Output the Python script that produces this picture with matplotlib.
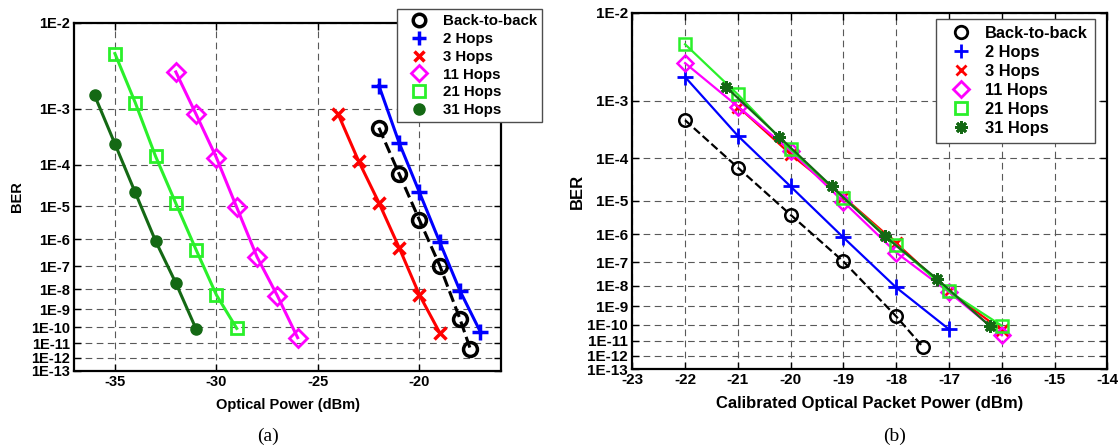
import math
import numpy as np
import matplotlib
matplotlib.use("Agg")
import matplotlib.pyplot as plt
from matplotlib.lines import Line2D
from matplotlib.ticker import FixedLocator, FixedFormatter

plt.rcParams['font.family'] = ['Liberation Sans', 'DejaVu Sans']
plt.rcParams['font.weight'] = 'bold'

# ---------------- data ----------------
labels = ['Back-to-back', '2 Hops', '3 Hops', '11 Hops', '21 Hops', '31 Hops']

# BER values (shared by both panels)
ber_b2b = [5e-4, 6.3e-5, 4e-6, 1.05e-7, 2.9e-10, 4.3e-12]
ber_2 = [2.1e-3, 2.7e-4, 2.3e-5, 7.8e-7, 8.3e-9, 5.3e-11]
ber_3 = [8.2e-4, 1.2e-4, 1.25e-5, 5e-7, 5.4e-9, 4.6e-11]
ber_11 = [3.1e-3, 8.2e-4, 1.4e-4, 9.3e-6, 2.3e-7, 5e-9, 2.3e-11]
ber_21 = [5e-3, 1.23e-3, 1.5e-4, 1.2e-5, 4.2e-7, 5.4e-9, 8.6e-11]
ber_31 = [1.55e-3, 2.6e-4, 2.3e-5, 8.7e-7, 1.95e-8, 7.8e-11]

# panel (a): optical power (dBm)
power_a_b2b = [-22, -21, -20, -19, -18, -17.5]
power_a_2 = [-22, -21, -20, -19, -18, -17]
power_a_3 = [-24, -23, -22, -21, -20, -19]
power_a_11 = [-32, -31, -30, -29, -28, -27, -26]
power_a_21 = [-35, -34, -33, -32, -31, -30, -29]
power_a_31 = [-36, -35, -34, -33, -32, -31]

# panel (b): calibrated optical packet power (dBm)
power_b_b2b = [-22, -21, -20, -19, -18, -17.5]
power_b_2 = [-22, -21, -20, -19, -18, -17]
power_b_3 = [-21, -20, -19, -18, -17, -16]
power_b_11 = [-22, -21, -20, -19, -18, -17, -16]
power_b_21 = [-22, -21, -20, -19, -18, -17, -16]
power_b_31 = [-21.22, -20.22, -19.22, -18.22, -17.22, -16.22]

ber_ticks = [1e-2, 1e-3, 1e-4, 1e-5, 1e-6, 1e-7, 1e-8, 1e-9, 1e-10, 1e-11, 1e-12, 1e-13]
ber_tick_labels = ['1E-2', '1E-3', '1E-4', '1E-5', '1E-6', '1E-7', '1E-8', '1E-9',
                   '1E-10', '1E-11', '1E-12', '1E-13']
xticks_a = [-35, -30, -25, -20]
xticks_b = [-23, -22, -21, -20, -19, -18, -17, -16, -15, -14]

# ---------------- BER (Q-factor) scale ----------------
SQRT2 = math.sqrt(2.0)
_erfc = np.vectorize(math.erfc, otypes=[float])


def ber_forward(ber):
    b = np.ma.filled(np.ma.asarray(ber, dtype=float), np.nan)
    b = np.array(b, dtype=float, ndmin=1)
    bad = ~np.isfinite(b) | (b <= 0) | (b >= 0.5)
    bc = np.where(bad, 1e-3, b)
    lo = np.zeros_like(bc)
    hi = np.full_like(bc, 38.0)
    for _ in range(55):
        mid = 0.5 * (lo + hi)
        val = 0.5 * _erfc(mid / SQRT2)
        gt = val > bc
        lo = np.where(gt, mid, lo)
        hi = np.where(gt, hi, mid)
    q = 0.5 * (lo + hi)
    out = -np.log10(q)
    out = np.where(bad, np.nan, out)
    return out.reshape(np.shape(ber)) if np.ndim(ber) else out[0]


def ber_inverse(y):
    y = np.ma.filled(np.ma.asarray(y, dtype=float), np.nan)
    return 0.5 * _erfc(10.0 ** (-np.asarray(y, dtype=float)) / SQRT2)


W, H = 1119, 446
fig = plt.figure(figsize=(W / 100, H / 100), dpi=100)


def px_axes(l, t, r, b):
    return fig.add_axes([l / W, 1 - b / H, (r - l) / W, (b - t) / H])


green = '#2af02a'
dgreen = '#146914'
magenta = '#ff00ff'


def style_axes(ax, xticks, xlim, tick_fs):
    ax.set_yscale('function', functions=(ber_forward, ber_inverse))
    ax.set_ylim(1e-13, 1e-2)
    ax.yaxis.set_major_locator(FixedLocator(ber_ticks))
    ax.yaxis.set_major_formatter(FixedFormatter(ber_tick_labels))
    ax.yaxis.set_minor_locator(FixedLocator([]))
    ax.set_xlim(*xlim)
    ax.set_xticks(xticks)
    ax.set_xticklabels([str(v) for v in xticks])
    ax.grid(True, color='0.35', linestyle=(0, (6, 4)), linewidth=0.8)
    ax.tick_params(direction='in', top=True, right=True, length=5, width=1,
                   labelsize=tick_fs, pad=3)
    for lab in ax.get_xticklabels() + ax.get_yticklabels():
        lab.set_fontweight('bold')
    for s in ax.spines.values():
        s.set_linewidth(1.6)


# ---------------- panel (a) ----------------
axa = px_axes(74.3, 22.7, 500.7, 371)
style_axes(axa, xticks_a, (-37, -16), 10.5)

lw_a = 2.2
axa.plot(power_a_b2b, ber_b2b, color='k', ls='--', lw=lw_a, marker='o', ms=10,
         mfc='none', mec='k', mew=2.5, zorder=3)
axa.plot(power_a_2, ber_2, color='b', lw=lw_a, marker='+', ms=12, mew=2.5, zorder=3)
axa.plot(power_a_3, ber_3, color='r', lw=lw_a, marker='x', ms=8, mew=2.5, zorder=3)
axa.plot(power_a_11, ber_11, color=magenta, lw=lw_a, marker='D', ms=9, mfc='none',
         mec=magenta, mew=2, zorder=3)
axa.plot(power_a_21, ber_21, color=green, lw=lw_a, marker='s', ms=9, mfc='none',
         mec=green, mew=2, zorder=3)
axa.plot(power_a_31, ber_31, color=dgreen, lw=lw_a, marker='o', ms=8, mfc=dgreen,
         mec=dgreen, zorder=3)
axa.set_xlabel('Optical Power (dBm)', fontsize=10.5, fontweight='bold', labelpad=6)
axa.set_ylabel('BER', fontsize=10.5, fontweight='bold', labelpad=5)

fs_la = 10.8
handles_a = [
    Line2D([], [], ls='None', marker='o', ms=9, mfc='none', mec='k', mew=2.5),
    Line2D([], [], ls='None', marker='+', ms=10, mec='b', mew=2.5),
    Line2D([], [], ls='None', marker='x', ms=7, mec='r', mew=2.5),
    Line2D([], [], ls='None', marker='D', ms=8, mfc='none', mec=magenta, mew=2),
    Line2D([], [], ls='None', marker='s', ms=8, mfc='none', mec=green, mew=2),
    Line2D([], [], ls='None', marker='o', ms=8, mfc=dgreen, mec=dgreen),
]
leg_a = fig.legend(handles_a, labels, loc='upper left',
                   bbox_to_anchor=(397 / W, 1 - 9 / H), borderaxespad=0,
                   prop={'size': fs_la, 'weight': 'bold'}, labelspacing=0.25,
                   handlelength=2.2, handletextpad=0.5, borderpad=0.35,
                   fancybox=False, edgecolor='0.3', framealpha=1)
leg_a.get_frame().set_linewidth(1.0)

# ---------------- panel (b) ----------------
axb = px_axes(632.3, 12.7, 1107.3, 369.3)
style_axes(axb, xticks_b, (-23, -14), 11)

lw_b = 1.6
axb.plot(power_b_b2b, ber_b2b, color='k', ls='--', lw=lw_b, marker='o', ms=9,
         mfc='none', mec='k', mew=1.8, zorder=3)
axb.plot(power_b_2, ber_2, color='b', lw=lw_b, marker='+', ms=11, mew=2, zorder=3)
axb.plot(power_b_3, ber_3, color='r', lw=lw_b, marker='x', ms=8, mew=2, zorder=3)
axb.plot(power_b_11, ber_11, color=magenta, lw=lw_b, marker='D', ms=8, mfc='none',
         mec=magenta, mew=1.8, zorder=3)
axb.plot(power_b_21, ber_21, color=green, lw=lw_b, marker='s', ms=8, mfc='none',
         mec=green, mew=1.8, zorder=3)
axb.plot(power_b_31, ber_31, color=dgreen, lw=lw_b, marker=(8, 2, 0), ms=9,
         mec=dgreen, mew=2, zorder=3)
axb.set_xlabel('Calibrated Optical Packet Power (dBm)', fontsize=12,
               fontweight='bold', labelpad=6)
axb.set_ylabel('BER', fontsize=12, fontweight='bold', labelpad=2)

fs_lb = 11.8
handles_b = [
    Line2D([], [], ls='None', marker='o', ms=9, mfc='none', mec='k', mew=2),
    Line2D([], [], ls='None', marker='+', ms=10, mec='b', mew=2),
    Line2D([], [], ls='None', marker='x', ms=7, mec='r', mew=2),
    Line2D([], [], ls='None', marker='D', ms=8, mfc='none', mec=magenta, mew=2),
    Line2D([], [], ls='None', marker='s', ms=8, mfc='none', mec=green, mew=2),
    Line2D([], [], ls='None', marker=(8, 2, 0), ms=9, mec=dgreen, mew=2),
]
leg_b = fig.legend(handles_b, labels, loc='upper left',
                   bbox_to_anchor=(936 / W, 1 - 19 / H), borderaxespad=0,
                   prop={'size': fs_lb, 'weight': 'bold'}, labelspacing=0.25,
                   handlelength=2.3, handletextpad=0.3, borderpad=0.4,
                   fancybox=False, edgecolor='0.3', framealpha=1)
leg_b.get_frame().set_linewidth(1.0)

# ---------------- captions ----------------
fig.text(268 / W, 1 - 436 / H, '(a)', ha='center', va='center',
         family=['Liberation Serif', 'DejaVu Serif'], fontweight='normal', fontsize=14)
fig.text(895 / W, 1 - 436 / H, '(b)', ha='center', va='center',
         family=['Liberation Serif', 'DejaVu Serif'], fontweight='normal', fontsize=14)

fig.savefig('out.png', dpi=100)
